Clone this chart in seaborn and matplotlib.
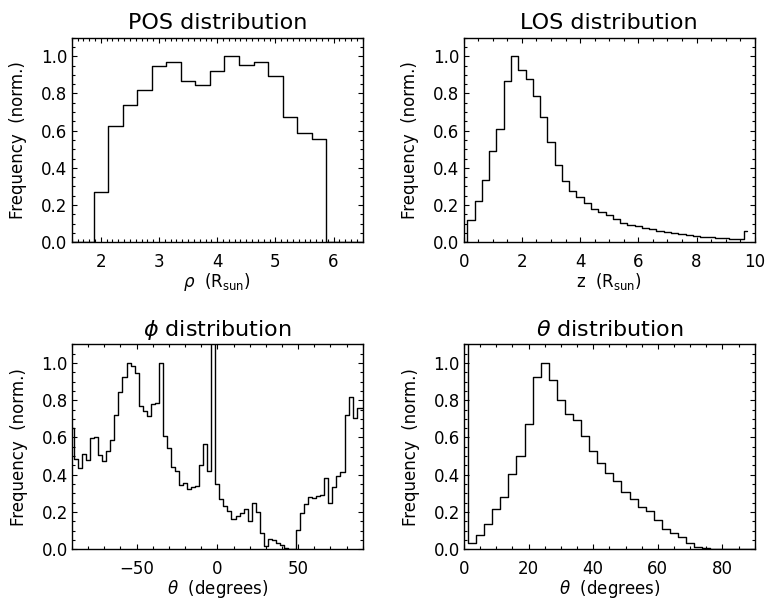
import numpy as np
import pandas as pd
import matplotlib
matplotlib.use("Agg")
import matplotlib.pyplot as plt
from matplotlib.ticker import MultipleLocator, FormatStrFormatter
import seaborn as sns

# ---------------- data (bin centres + normalised frequencies) ----------------
pos_start, pos_step = 1.5, 0.25
pos_freq = [0.0, 0.0, 0.271, 0.623, 0.738, 0.82, 0.95, 0.968, 0.869, 0.847,
            0.923, 1.0, 0.955, 0.969, 0.892, 0.671, 0.587, 0.555, 0.0, 0.0, 0.0]

los_start, los_step = 0.0, 0.25
los_freq = [0.0, 0.12, 0.224, 0.336, 0.492, 0.609, 0.865, 1.0, 0.925, 0.878,
            0.785, 0.671, 0.537, 0.417, 0.33, 0.278, 0.242, 0.21, 0.178, 0.162,
            0.147, 0.126, 0.106, 0.092, 0.085, 0.076, 0.07, 0.062, 0.055, 0.048,
            0.043, 0.038, 0.034, 0.03, 0.027, 0.025, 0.022, 0.02, 0.018, 0.063]

phi_start, phi_step = -90.0, 2.5
phi_freq = [0.65, 0.487, 0.436, 0.513, 0.48, 0.596, 0.604, 0.504, 0.476, 0.53,
            0.585, 0.718, 0.845, 0.924, 1.0, 0.985, 0.945, 0.767, 0.742, 0.713,
            0.778, 0.787, 1.0, 0.607, 0.542, 0.444, 0.42, 0.345, 0.356, 0.324,
            0.335, 0.338, 0.455, 0.564, 0.42, 3.0,
            0.349, 0.269, 0.233, 0.207, 0.16, 0.178, 0.193, 0.215, 0.153, 0.251,
            0.2, 0.087, 0.018, 0.055, 0.051, 0.033, 0.022, 0.007, 0.004, 0.0,
            0.105, 0.193, 0.244, 0.28, 0.276, 0.284, 0.29, 0.382, 0.251, 0.335,
            0.393, 0.415, 0.72, 0.815, 0.705, 0.756, 0.756]

theta_start, theta_step = 0.0, 2.5
theta_freq = [3.0, 0.036, 0.075, 0.134, 0.215, 0.283, 0.403, 0.498, 0.67, 0.925,
              1.0, 0.91, 0.803, 0.726, 0.692, 0.609, 0.525, 0.462, 0.409, 0.364,
              0.31, 0.272, 0.229, 0.203, 0.158, 0.108, 0.086, 0.065, 0.036, 0.014,
              0.007, 0.004, 0.002, 0.001, 0.0, 0.0, 0.0]

titles = ["POS distribution", "LOS distribution",
          r"$\phi$ distribution", r"$\theta$ distribution"]
xlabels = [r"$\rho$  (R$_{\rm sun}$)", r"z  (R$_{\rm sun}$)",
           r"$\theta$  (degrees)", r"$\theta$  (degrees)"]
ylabel = "Frequency  (norm.)"

# ---------------- styling ----------------
sns.set_style("ticks")
plt.rcParams["font.family"] = ["DejaVu Sans"]
plt.rcParams["mathtext.fontset"] = "dejavusans"
plt.rcParams["text.color"] = "black"
plt.rcParams["axes.labelcolor"] = "black"
plt.rcParams["xtick.color"] = "black"
plt.rcParams["ytick.color"] = "black"

fig = plt.figure(figsize=(7.67, 6.01), dpi=100)
W, H = 767.0, 601.0
rects = [
    (71.7 / W, 1 - 242.3 / H, 291 / W, 204.6 / H),
    (463.7 / W, 1 - 242.3 / H, 291 / W, 204.6 / H),
    (72.0 / W, 1 - 549.3 / H, 290.7 / W, 205.0 / H),
    (464.0 / W, 1 - 549.3 / H, 290.7 / W, 205.0 / H),
]

def centres(start, step, n):
    return start + step * np.arange(n)

def psym10_edges(c):
    c = np.asarray(c, float)
    mids = (c[:-1] + c[1:]) / 2
    return [float(v) for v in np.concatenate([[c[0]], mids, [c[-1]]])]

panels = [
    (pos_start, pos_step, pos_freq, (1.5, 6.5), 1.0, 0.1),
    (los_start, los_step, los_freq, (0, 10), 2.0, 0.5),
    (phi_start, phi_step, phi_freq, (-90, 90), 50.0, 10.0),
    (theta_start, theta_step, theta_freq, (0, 90), 20.0, 5.0),
]

for i, (start, step, freq, xlim, xmaj, xmin) in enumerate(panels):
    ax = fig.add_axes(rects[i])
    c = centres(start, step, len(freq))
    df = pd.DataFrame({"centre": c, "freq": np.asarray(freq, float)})
    sns.histplot(data=df, x="centre", weights="freq", bins=psym10_edges(c),
                 element="step", fill=False, color="black", linewidth=1.0, ax=ax)
    ax.set_xlim(*xlim)
    ax.set_ylim(0, 1.1)
    ax.xaxis.set_major_locator(MultipleLocator(xmaj))
    ax.xaxis.set_minor_locator(MultipleLocator(xmin))
    ax.yaxis.set_major_locator(MultipleLocator(0.2))
    ax.yaxis.set_minor_locator(MultipleLocator(0.05))
    ax.yaxis.set_major_formatter(FormatStrFormatter("%.1f"))
    ax.tick_params(which="both", direction="in", top=True, right=True,
                   color="black", width=0.8, labelsize=12, labelcolor="black")
    ax.tick_params(which="major", length=3.8)
    ax.tick_params(which="minor", length=1.9)
    ax.tick_params(axis="x", which="major", pad=7.5)
    ax.tick_params(axis="y", which="major", pad=3)
    for s in ax.spines.values():
        s.set_visible(True)
        s.set_linewidth(1.0)
        s.set_color("black")
    ax.set_title(titles[i], fontsize=16, pad=6)
    ax.set_xlabel(xlabels[i], fontsize=12, labelpad=0.5)
    ax.set_ylabel(ylabel, fontsize=12, labelpad=10)

fig.savefig("out.png", dpi=100)
